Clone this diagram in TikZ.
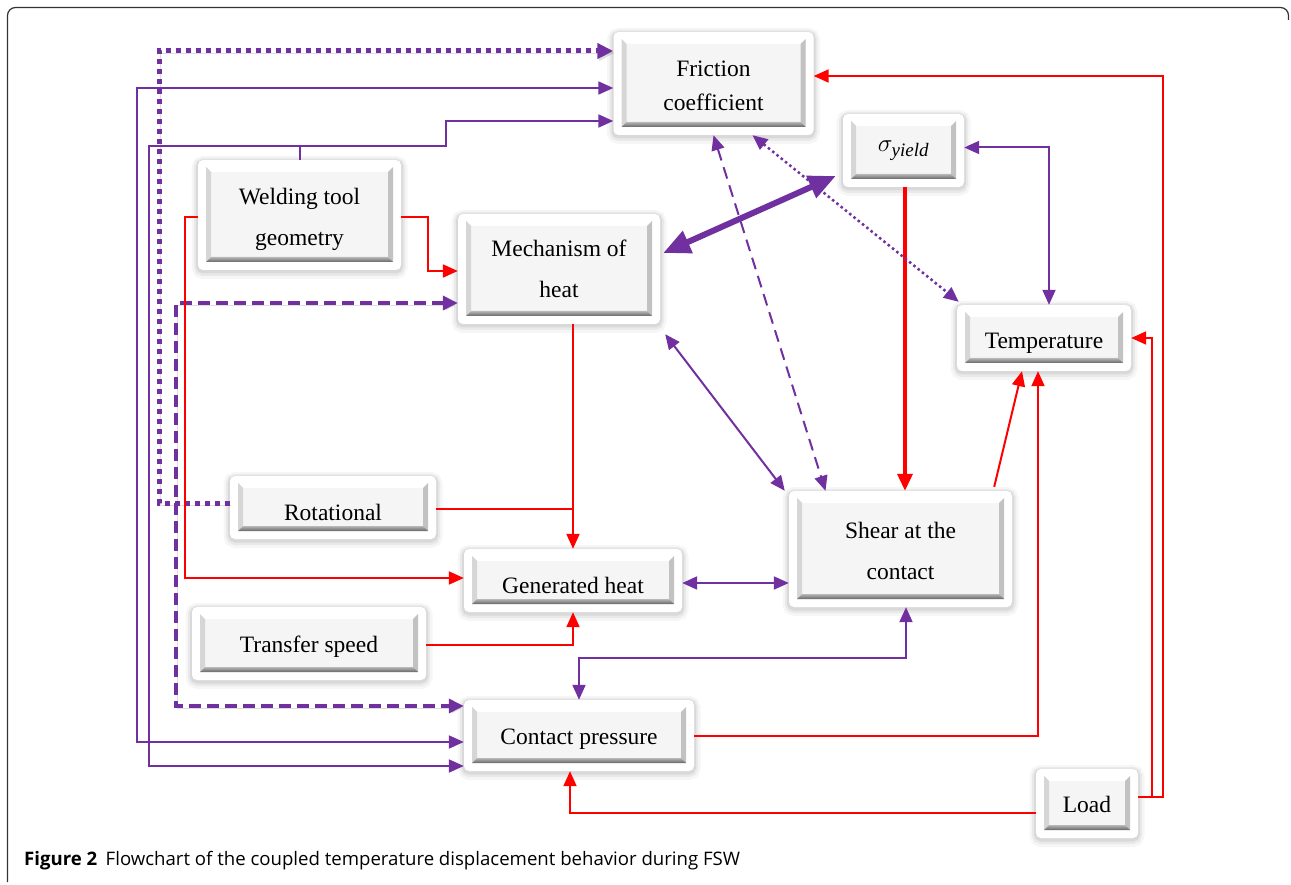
\documentclass[tikz,border=0pt]{standalone}
\usepackage{fontspec}
\setmainfont{Liberation Serif}
\newfontfamily\capfont{Open Sans}
\usetikzlibrary{arrows.meta,calc}
\definecolor{pur}{HTML}{7030A0}
\definecolor{redA}{HTML}{FF0000}
\newcommand{\bxfont}{\fontsize{23.5}{34}\selectfont}
\begin{document}
\begin{tikzpicture}[x=1pt,y=-1pt,
  >={Triangle[length=15pt,width=13pt]},
  bx/.style={fill=white, rounded corners=5pt,
    preaction={draw=black, opacity=0.035, line width=13pt, transform canvas={yshift=-2.5pt}},
    preaction={draw=black, opacity=0.05, line width=8pt, transform canvas={yshift=-2pt}},
    preaction={draw=black, opacity=0.07, line width=4pt, transform canvas={yshift=-1.5pt}},
    inner sep=0pt, align=center, font=\bxfont,
    path picture={
      \coordinate (bxnw) at ([xshift=8pt,yshift=-7pt]path picture bounding box.north west);
      \coordinate (bxse) at ([xshift=-8pt,yshift=8pt]path picture bounding box.south east);
      \coordinate (bxne) at (bxnw -| bxse);
      \coordinate (bxsw) at (bxse -| bxnw);
      \fill[sharp corners, black!4] (bxnw) rectangle (bxse);
      \fill[sharp corners, white] (bxnw) -- (bxne) -- ([shift={(-5pt,-5pt)}]bxne) -- ([shift={(5pt,-5pt)}]bxnw) -- cycle;
      \fill[sharp corners, black!16] (bxnw) -- (bxsw) -- ([shift={(5pt,5pt)}]bxsw) -- ([shift={(5pt,-5pt)}]bxnw) -- cycle;
      \fill[sharp corners, black!24] (bxne) -- (bxse) -- ([shift={(-5pt,5pt)}]bxse) -- ([shift={(-5pt,-5pt)}]bxne) -- cycle;
      \shade[sharp corners, top color=black!28, bottom color=black!60] (bxsw) -- (bxse) -- ([shift={(-5pt,5pt)}]bxse) -- ([shift={(5pt,5pt)}]bxsw) -- cycle;
    }},
  tdown/.style={execute at begin node={\rule{0pt}{#1}}},
  wide/.style={font=\fontsize{23.5}{41}\selectfont},
  pl/.style={draw=pur, line width=2pt},
  rl/.style={draw=redA, line width=2pt},
  rlT/.style={draw=redA, line width=3.5pt},
  lshadow/.style={preaction={draw=black, opacity=0.13, transform canvas={shift={(1.5pt,-2pt)}}}},
  dotT/.style={draw=pur, line width=5pt, dash pattern=on 5pt off 5pt, lshadow},
  dashT/.style={draw=pur, line width=3.5pt, dash pattern=on 12pt off 6pt, lshadow},
  dashS/.style={draw=pur, line width=2pt, dash pattern=on 12pt off 7pt},
  dotS/.style={draw=pur, line width=2.5pt, dash pattern=on 2.5pt off 3pt},
  thickP/.style={draw=pur, line width=6pt, {Triangle[length=27pt,width=23pt]}-{Triangle[length=27pt,width=23pt]}}
]
\useasboundingbox (0,0) rectangle (1291,885);
\draw[line width=1.2pt, draw=black!80, rounded corners=8pt] (7.5,882) -- (7.5,7.5) -- (1288.5,7.5) -- (1288.5,20);

% nodes
\node[bx, tdown=54.5pt, minimum width=200pt, minimum height=103pt] (fric) at (713.5,83.5) {Friction\\coefficient};
\node[bx, minimum width=121pt, minimum height=73pt] (sig) at (903.5,150.5) {$\sigma_{\mbox{\fontsize{19}{19}\selectfont\itshape yield}}$};
\node[bx, wide, tdown=65.5pt, minimum width=203pt, minimum height=110pt] (weld) at (299.5,215) {Welding tool\\geometry};
\node[bx, wide, minimum width=202pt, minimum height=110pt] (mech) at (559,269) {Mechanism of\\heat};
\node[bx, tdown=26pt, minimum width=174pt, minimum height=66pt] (temp) at (1044,338) {Temperature};
\node[bx, tdown=26pt, minimum width=206pt, minimum height=63pt] (rot) at (333,507.5) {Rotational};
\node[bx, wide, tdown=61.5pt, minimum width=223pt, minimum height=116pt] (shear) at (900.5,549) {Shear at the\\contact};
\node[bx, tdown=26pt, minimum width=218pt, minimum height=63pt] (gen) at (573,580.5) {Generated heat};
\node[bx, tdown=22pt, minimum width=234pt, minimum height=73pt] (trans) at (309,643.5) {Transfer speed};
\node[bx, tdown=23pt, minimum width=230pt, minimum height=71pt] (cp) at (579,735.5) {Contact pressure};
\node[bx, tdown=18pt, minimum width=102pt, minimum height=69pt] (load) at (1087,803.5) {Load};

% connectors
\draw[dotT,-{Triangle[length=16pt,width=15pt]}] ([yshift=4pt]rot.west) -| (159,51) -- (fric.west |- 0,51);
\draw[dashT,{Triangle[length=15pt,width=14pt]}-{Triangle[length=15pt,width=14pt]}] (mech.west |- 0,303) -| (176,706) -- (cp.west |- 0,706);
\draw[pl,<->] (fric.west |- 0,88) -| (137,742) -- (cp.west |- 0,742);
\coordinate (wt) at (weld.north |- 0,146);
\draw[pl] (weld.north) -- (wt);
\draw[pl,->] (wt) -| (446,121) -- (fric.west |- 0,121);
\draw[pl,->] (wt) -| (149,766) -- (cp.west |- 0,766);
\draw[rl,->] ([yshift=-2pt]weld.west) -| (185,578) -- (gen.west |- 0,578);
\draw[rl,->] ([yshift=-2pt]weld.east) -| (428,271) -- (mech.west |- 0,271);
\draw[rl,->] (mech.south -| 573,0) -- (gen.north -| 573,0);
\draw[rl] ([yshift=-1.5pt]rot.east) -- ([yshift=-1.5pt]rot.east -| 573,0);
\draw[rl,->] ([yshift=-1.5pt]trans.east) -| (gen.south -| 573,0);
\draw[pl,<->] ([yshift=-2.5pt]gen.east) -- ([yshift=-2.5pt]gen.east -| shear.west);
\draw[pl,<->] (cp.north) |- (906,658) -- (shear.south -| 906,0);
\draw[rl,->] (cp.east) -| (temp.south -| 1038,0);
\draw[rl,->] ([xshift=-18pt,yshift=4pt]shear.north east) -- (temp.south -| 1022,0);
\draw[rlT,-{Triangle[length=17pt,width=15pt]}] (sig.south -| 905,0) -- (shear.north -| 905,0);
\draw[pl,<->] ([yshift=3pt]sig.east) -| (temp.north -| 1049,0);
\draw[dotS,<->] ([xshift=39pt]fric.south) -- ([xshift=2pt,yshift=3pt]temp.north west);
\draw[dashS,<->] (fric.south) -- ([xshift=-75pt]shear.north);
\draw[pl,<->] ([xshift=5pt,yshift=-10pt]mech.south east) -- ([xshift=-4pt]shear.north west);
\draw[thickP] ([xshift=3pt,yshift=16pt]mech.east) -- ([xshift=-7pt,yshift=-25.5pt]sig.west);
\draw[rl,->] ([yshift=6.5pt]load.east) -| (1163,76) -- (fric.east |- 0,76);
\draw[rl,->] ([yshift=6.5pt]load.east) -| (1152,338) -- (temp.east |- 0,338);
\draw[rl,->] ([yshift=-9.5pt]load.west) -| (cp.south -| 570,0);

% caption
\node[anchor=base west, inner sep=0pt, font=\capfont\fontsize{18.6}{21}\selectfont] (cap) at (24,865) {\textbf{Figure 2}\hspace{0.45em}Flowchart of the coupled temperature displacement behavior during FSW};
\end{tikzpicture}
\end{document}
